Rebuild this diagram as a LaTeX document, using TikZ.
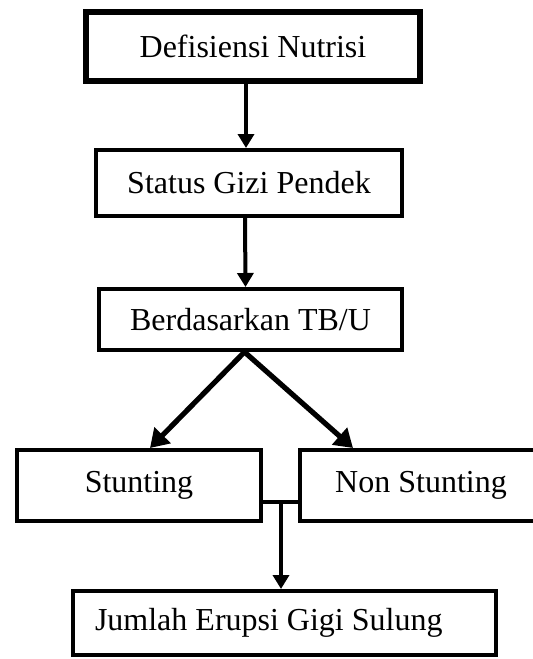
\documentclass[tikz,border=0pt]{standalone}
\usepackage{fontspec}
\setmainfont{Liberation Serif}
\usetikzlibrary{arrows.meta,positioning}

\begin{document}
\begin{tikzpicture}[x=0.5pt,y=-0.5pt]
\tikzset{
  flowbox/.style={rectangle,draw=black,line width=2pt,fill=white,inner sep=2pt,font=\fontsize{16}{19}\selectfont},
  flowedge/.style={draw=black,line width=2pt,line cap=butt,line join=miter},
  flowarrow/.style={flowedge,-{Triangle[length=7pt,width=8pt]}},
  splitarrow/.style={flowedge,line width=2.6pt,-{Triangle[length=9pt,width=11pt]}}
}
\useasboundingbox (0,0) rectangle (533,659);
\node[flowbox,line width=2.6pt,minimum width=167pt,minimum height=34.5pt] (n_def) at (253,46.5) {Defisiensi Nutrisi};
\node[flowbox,minimum width=153pt,minimum height=33pt] (n_gizi) at (249,183) {Status Gizi Pendek};
\node[flowbox,minimum width=151.5pt,minimum height=30.5pt] (n_tbu) at (250.5,319.5) {Berdasarkan TB/U};
\node[flowbox,minimum width=122pt,minimum height=35.5pt] (n_stunt) at (139,485.5) {Stunting};
\node[flowbox,minimum width=121pt,minimum height=35.5pt] (n_nonstunt) at (421,485.5) {Non Stunting};
\node[flowbox,minimum height=32pt,text width=189.5pt,align=flush left,inner xsep=11pt] (n_jumlah) at (284.5,623) {Jumlah Erupsi Gigi Sulung};
\coordinate (c_join) at (281,502);
\draw[flowarrow] ([xshift=-3.5pt]n_def.south) -- ([xshift=-1.5pt]n_gizi.north);
\draw[flowarrow] ([xshift=-2pt]n_gizi.south) -- ([xshift=-2.5pt]n_tbu.north);
\draw[splitarrow] ([xshift=-3pt]n_tbu.south) -- ([xshift=5.5pt]n_stunt.north);
\draw[splitarrow] ([xshift=-3pt]n_tbu.south) -- ([xshift=-34pt]n_nonstunt.north);
\draw[flowedge] (n_stunt.east |- c_join) -- (n_nonstunt.west |- c_join);
\draw[flowarrow] (c_join) -- (c_join |- n_jumlah.north);
\end{tikzpicture}
\end{document}
